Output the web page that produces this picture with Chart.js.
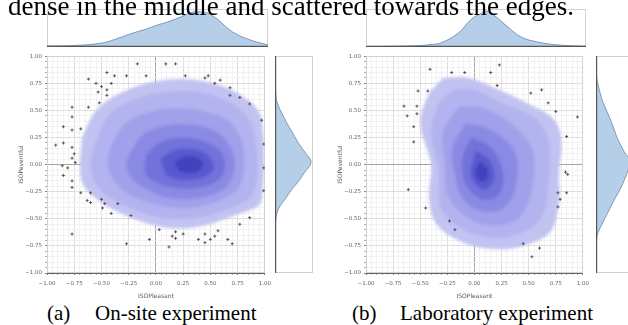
<!DOCTYPE html>
<html><head><meta charset="utf-8">
<script src="https://cdn.jsdelivr.net/npm/chart.js@4.4.0/dist/chart.umd.min.js"></script>
<style>
html,body{margin:0;padding:0;background:#fff;width:628px;height:325px;overflow:hidden;position:relative}
canvas{position:absolute}
.txt{position:absolute;font-family:"Liberation Serif","Times New Roman",serif;color:#000;white-space:nowrap;z-index:5}
.cap{font-size:21px;line-height:21px;top:303px}
</style></head><body>
<canvas id="mainA" width="276" height="250" style="left:0;top:50px"></canvas>
<canvas id="mainB" width="275" height="250" style="left:319px;top:50px"></canvas>
<canvas id="topA" width="221" height="38" style="left:47px;top:9px"></canvas>
<canvas id="topB" width="220" height="38" style="left:366px;top:9px"></canvas>
<canvas id="rightA" width="38" height="217" style="left:275px;top:56px"></canvas>
<canvas id="rightB" width="40" height="217" style="left:596px;top:56px"></canvas>
<div class="txt" style="left:8px;top:-7px;font-size:27px;line-height:27px">dense in the middle and scattered towards the edges.</div>
<div class="txt cap" style="left:47px">(a)</div>
<div class="txt cap" style="left:95px">On-site experiment</div>
<div class="txt cap" style="left:352px">(b)</div>
<div class="txt cap" style="left:400px">Laboratory experiment</div>
<script>
// ---------- data ----------
const tickValues = [-1, -0.75, -0.5, -0.25, 0, 0.25, 0.5, 0.75, 1];
const tickLabels = ['\u22121.00', '\u22120.75', '\u22120.50', '\u22120.25', '0.00', '0.25', '0.50', '0.75', '1.00'];
const xAxisTitle = 'ISOPleasant';
const yAxisTitle = 'ISOPeventful';

// (a) on-site: visible scatter points [ISOPleasant, ISOPeventful]
const onsitePoints = [
  [-0.45,0.85],[-0.38,0.82],[-0.62,0.79],[-0.55,0.75],[-0.5,0.72],[-0.45,0.69],[-0.53,0.67],[-0.45,0.64],[-0.41,0.75],
  [-0.52,0.57],[-0.62,0.53],[-0.77,0.53],[-0.77,0.44],[-0.85,0.35],[-0.77,0.32],[-0.69,0.33],[-0.92,0.18],[-0.85,0.2],
  [-0.77,0.16],[-0.75,0.1],[-0.77,0.06],[-0.74,0.02],[-0.81,-0.03],[-0.86,-0.01],[-0.85,-0.1],[-0.77,-0.15],[-0.77,-0.21],
  [-0.69,-0.26],[-0.63,-0.33],[-0.6,-0.35],[-0.6,-0.26],[-0.5,-0.32],[-0.47,-0.36],[-0.41,-0.45],[-0.35,-0.36],[-0.77,-0.64],
  [-0.17,0.93],[0.09,0.93],[0.18,0.93],[0.27,0.82],[0.48,0.82],[0.54,0.75],[0.68,0.64],[0.77,0.62],[0.86,0.56],[0.68,0.71],
  [0.59,0.78],[0.45,0.8],[-0.09,0.82],[-0.27,0.82],[0.97,0.41],[0.99,0.19],[0.99,-0.03],[0.99,-0.24],
  [-0.23,-0.47],[-0.49,-0.4],[0.77,-0.55],[0.86,-0.49],[0.57,-0.61],[0.45,-0.64],[0.18,-0.62],[0.03,-0.6],
  [-0.27,-0.73],[-0.06,-0.69],[0.12,-0.76],[0.18,-0.68],[0.25,-0.64],[0.39,-0.69],[0.45,-0.72],[0.5,-0.69],[0.54,-0.66],
  [0.66,-0.69],[0.7,-0.73],[0.15,-0.66]
];
// (a) density contour outlines, outermost first
const onsiteLevel1 = [[-0.68,0.25],[-0.55,0.5],[-0.33,0.66],[0.0,0.77],[0.39,0.78],[0.75,0.66],[0.97,0.43],[0.97,-0.33],[0.72,-0.47],[0.35,-0.58],[0.03,-0.57],[-0.3,-0.46],[-0.58,-0.29],[-0.69,-0.12]];
const onsiteLevel2 = [[-0.56,0.2],[-0.43,0.46],[-0.2,0.6],[0.1,0.67],[0.45,0.66],[0.76,0.52],[0.9,0.3],[0.9,-0.25],[0.66,-0.41],[0.3,-0.5],[0.0,-0.48],[-0.3,-0.37],[-0.53,-0.21],[-0.6,0.0]];
const onsiteLevel3 = [[-0.42,0.16],[-0.28,0.38],[0.0,0.5],[0.35,0.51],[0.67,0.4],[0.8,0.16],[0.77,-0.19],[0.56,-0.34],[0.25,-0.4],[-0.06,-0.35],[-0.32,-0.22],[-0.44,-0.02]];
const onsiteLevel4 = [[-0.24,0.11],[-0.09,0.3],[0.22,0.37],[0.56,0.3],[0.72,0.06],[0.66,-0.19],[0.43,-0.3],[0.1,-0.3],[-0.16,-0.18],[-0.27,-0.03]];
const onsiteLevel5 = [[-0.09,0.09],[0.07,0.22],[0.35,0.24],[0.6,0.12],[0.61,-0.1],[0.41,-0.21],[0.1,-0.2],[-0.09,-0.09]];
const onsiteLevel6 = [[0.04,0.06],[0.2,0.14],[0.43,0.12],[0.53,-0.03],[0.39,-0.13],[0.12,-0.11]];
const onsiteLevel7 = [[0.17,0.03],[0.3,0.08],[0.43,0.03],[0.39,-0.06],[0.22,-0.06]];
// (a) marginal densities (relative heights)
const onsitePleasantX = [-1,-0.75,-0.5,-0.35,-0.22,-0.1,0,0.09,0.21,0.32,0.39,0.45,0.54,0.68,0.84,1];
const onsitePleasantDensity = [1,1.5,4,9,14,18,22,25,30,35,35,34,28,15,7,2];
const onsiteEventfulY = [1.0,0.8,0.62,0.55,0.45,0.38,0.3,0.22,0.15,0.1,0.02,-0.08,-0.16,-0.24,-0.32,-0.4,-0.49,-0.65,-0.8,-1.0];
const onsiteEventfulDensity = [0.3,0.5,1,3,8,12,17,22,27,31,36,29,23,16,10,4,1,0.6,0.4,0.3];

// (b) laboratory
const labPoints = [
  [-0.41,0.88],[-0.52,0.68],[-0.43,0.68],[-0.65,0.54],[-0.53,0.54],[-0.62,0.45],[-0.53,0.47],[-0.56,0.35],[-0.56,0.21],
  [-0.61,-0.23],[-0.45,-0.4],[-0.21,0.85],[-0.09,0.85],[0.15,0.85],[0.23,0.92],[0.21,0.73],[0.52,0.66],[0.62,0.69],
  [0.68,0.57],[0.75,0.49],[0.95,0.44],[0.85,0.26],[0.86,-0.09],[0.84,-0.07],[0.77,-0.26],[0.85,-0.26],[0.77,-0.39],
  [0.79,-0.32],[-0.23,-0.52],[-0.18,-0.6],[0.53,-0.85],[0.45,-0.73],[0.6,-0.77]
];
const labLevel1 = [[-0.29,0.8],[-0.05,0.8],[0.25,0.68],[0.5,0.56],[0.72,0.43],[0.8,0.25],[0.78,-0.1],[0.78,-0.35],[0.7,-0.62],[0.45,-0.75],[0.2,-0.78],[-0.1,-0.72],[-0.35,-0.55],[-0.42,-0.3],[-0.4,0.0],[-0.5,0.38],[-0.42,0.65]];
const labLevel2 = [[-0.2,0.69],[0.0,0.69],[0.25,0.57],[0.56,0.43],[0.69,0.2],[0.68,-0.2],[0.61,-0.5],[0.38,-0.65],[0.12,-0.67],[-0.12,-0.59],[-0.31,-0.4],[-0.33,-0.05],[-0.4,0.3],[-0.33,0.56]];
const labLevel3 = [[-0.14,0.54],[0.08,0.52],[0.36,0.36],[0.54,0.12],[0.52,-0.26],[0.4,-0.5],[0.15,-0.56],[-0.09,-0.47],[-0.24,-0.29],[-0.27,0.0],[-0.29,0.3]];
const labLevel4 = [[-0.08,0.38],[0.15,0.32],[0.37,0.12],[0.38,-0.2],[0.27,-0.4],[0.07,-0.43],[-0.11,-0.31],[-0.18,-0.1],[-0.2,0.16]];
const labLevel5 = [[-0.03,0.25],[0.15,0.16],[0.26,-0.06],[0.23,-0.27],[0.07,-0.32],[-0.08,-0.18],[-0.11,0.06]];
const labLevel6 = [[0.01,0.13],[0.14,0.04],[0.18,-0.14],[0.08,-0.23],[-0.03,-0.1]];
const labLevel7 = [[0.05,0.03],[0.12,-0.04],[0.11,-0.14],[0.04,-0.15],[0.01,-0.06]];
const labPleasantX = [-1,-0.75,-0.5,-0.41,-0.32,-0.16,-0.05,0.05,0.09,0.16,0.29,0.41,0.56,0.75,1];
const labPleasantDensity = [0.5,0.8,1.5,2.5,4,14,27,34,36,32,20,10,5,2,0.7];
const labEventfulY = [1.0,0.81,0.7,0.6,0.53,0.4,0.3,0.23,0.12,0.03,-0.08,-0.15,-0.23,-0.33,-0.44,-0.55,-0.66,-0.8,-1.0];
const labEventfulDensity = [0.3,0.6,3,6,9,15,19,22,28,34,31,28,24,18,12,6,1,0.5,0.3];

// ---------- styles ----------
const densityShades = ['#c3c3f2','#b3b3ef','#a0a0eb','#8a8ae4','#7272db','#5959cf','#4242bf'];
const margFill = 'rgba(168,199,229,0.85)';
const margLine = '#7b98b6';

Chart.defaults.font.family = "'DejaVu Sans', sans-serif";
Chart.defaults.animation = false;

function fmtTick(v) {
  for (let i = 0; i < tickValues.length; i++) if (Math.abs(v - tickValues[i]) < 1e-6) return tickLabels[i];
  return '';
}
function isMajor(v) { return Math.abs(v / 0.25 - Math.round(v / 0.25)) < 1e-6; }
function gridColor(c) {
  const v = c.tick ? c.tick.value : 0;
  if (Math.abs(v) < 1e-6) return '#8c8c8c';
  return isMajor(v) ? '#d6d6d6' : '#efefef';
}
function tickColor(c) {
  const v = c.tick ? c.tick.value : 0;
  return isMajor(v) ? '#666' : '#999';
}

const framePlugin = {
  id: 'frame',
  beforeDatasetsDraw(chart, args, opts) {
    const a = chart.chartArea, ctx = chart.ctx;
    ctx.save();
    ctx.strokeStyle = opts.color || '#d2d2d2';
    ctx.lineWidth = 1;
    ctx.strokeRect(Math.round(a.left) + 0.5, Math.round(a.top) + 0.5, Math.round(a.right - a.left) - 1, Math.round(a.bottom - a.top) - 1);
    ctx.restore();
  },
  afterDatasetsDraw(chart, args, opts) {
    if (!opts.base) return;
    const a = chart.chartArea, ctx = chart.ctx;
    ctx.save();
    ctx.strokeStyle = '#555';
    ctx.lineWidth = 1.2;
    ctx.beginPath();
    if (opts.base === 'bottom') { ctx.moveTo(a.left, a.bottom - 0.6); ctx.lineTo(a.right, a.bottom - 0.6); }
    else { ctx.moveTo(a.left + 0.6, a.top); ctx.lineTo(a.left + 0.6, a.bottom); }
    ctx.stroke();
    ctx.restore();
  }
};

// softens the filled density bands; the scatter layer (dataset 0) is drawn sharp
const blurPlugin = {
  id: 'densityBlur',
  beforeDatasetsDraw(chart) { chart.ctx.save(); chart.ctx.filter = 'blur(1.6px)'; },
  beforeDatasetDraw(chart, args) { if (args.index === 0) chart.ctx.filter = 'none'; },
  afterDatasetsDraw(chart) { chart.ctx.restore(); }
};

function axis(isX) {
  return {
    type: 'linear', min: -1, max: 1,
    afterFit(s) { if (isX) s.height = 27; else s.width = 47; },
    ticks: { stepSize: 0.05, autoSkip: false, maxRotation: 0, minRotation: 0, callback: fmtTick,
             font: { size: 5.5 }, color: '#666', padding: isX ? 5 : 3 },
    grid: { color: gridColor, tickLength: 2, tickColor: tickColor, lineWidth: 0.8 },
    border: { display: true, color: '#666', width: 1 },
    title: { display: true, text: isX ? xAxisTitle : yAxisTitle, font: { size: 6 }, color: '#555',
             padding: isX ? { top: 5, bottom: 0 } : { top: 18, bottom: 0 } }
  };
}

function makeMain(id, points, levels) {
  const datasets = [{
    data: points.map(p => ({ x: p[0], y: p[1] })),
    pointStyle: 'cross', pointRadius: 1.5, borderColor: '#4a4a4a', borderWidth: 0.9, order: 0
  }];
  levels.forEach((lv, i) => {
    const pts = lv.map(p => ({ x: p[0], y: p[1] }));
    pts.push({ x: lv[0][0], y: lv[0][1] });
    datasets.push({
      data: pts, showLine: true, fill: 'shape', tension: 0.35, pointRadius: 0,
      borderWidth: 0, borderColor: 'rgba(0,0,0,0)', backgroundColor: densityShades[i], order: 20 - i
    });
  });
  return new Chart(document.getElementById(id), {
    type: 'scatter',
    data: { datasets },
    options: {
      responsive: false, animation: false, events: [],
      layout: { padding: { top: 6, right: 8, left: 0, bottom: 0 } },
      plugins: { legend: { display: false }, tooltip: { enabled: false }, frame: {} },
      scales: { x: axis(true), y: axis(false) }
    },
    plugins: [framePlugin, blurPlugin]
  });
}

function makeTop(id, xs, hs, maxH) {
  return new Chart(document.getElementById(id), {
    type: 'scatter',
    data: { datasets: [{ data: xs.map((x, i) => ({ x, y: hs[i] })), showLine: true, fill: 'origin', tension: 0.4,
      pointRadius: 0, borderColor: margLine, borderWidth: 1, backgroundColor: margFill }] },
    options: {
      responsive: false, animation: false, events: [], layout: { padding: 0 },
      plugins: { legend: { display: false }, tooltip: { enabled: false }, frame: { base: 'bottom' } },
      scales: { x: { display: false, min: -1, max: 1 }, y: { display: false, min: 0, max: maxH } }
    },
    plugins: [framePlugin]
  });
}

function makeRight(id, ys, hs, maxH) {
  return new Chart(document.getElementById(id), {
    type: 'scatter',
    data: { datasets: [{ data: ys.map((y, i) => ({ x: hs[i], y })), showLine: true, fill: 'shape', tension: 0.4,
      pointRadius: 0, borderColor: margLine, borderWidth: 1, backgroundColor: margFill }] },
    options: {
      responsive: false, animation: false, events: [], layout: { padding: 0 },
      plugins: { legend: { display: false }, tooltip: { enabled: false }, frame: { base: 'left' } },
      scales: { x: { display: false, min: 0, max: maxH }, y: { display: false, min: -1, max: 1 } }
    },
    plugins: [framePlugin]
  });
}

makeMain('mainA', onsitePoints, [onsiteLevel1, onsiteLevel2, onsiteLevel3, onsiteLevel4, onsiteLevel5, onsiteLevel6, onsiteLevel7]);
makeMain('mainB', labPoints, [labLevel1, labLevel2, labLevel3, labLevel4, labLevel5, labLevel6, labLevel7]);
makeTop('topA', onsitePleasantX, onsitePleasantDensity, 38);
makeTop('topB', labPleasantX, labPleasantDensity, 38);
makeRight('rightA', onsiteEventfulY, onsiteEventfulDensity, 38);
makeRight('rightB', labEventfulY, labEventfulDensity, 40);
</script>
</body></html>
